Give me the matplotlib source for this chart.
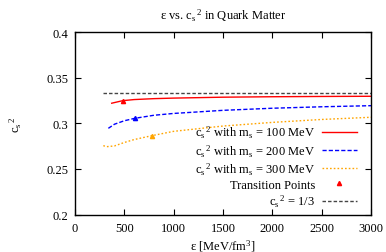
import matplotlib.pyplot as plt
import numpy as np

plt.rcParams['font.family'] = ['Liberation Serif', 'DejaVu Serif']
plt.rcParams['mathtext.fontset'] = 'custom'
plt.rcParams['mathtext.rm'] = 'Liberation Serif'
plt.rcParams['mathtext.it'] = 'Liberation Serif'
plt.rcParams['font.size'] = 9

# energy density [MeV/fm^3] and c_s^2
eps_100 = [372, 484, 600, 800, 1000, 1500, 2000, 2500, 3000]
cs2_100 = [0.3220, 0.3248, 0.3260, 0.3270, 0.3276, 0.3286, 0.3291, 0.3294, 0.3296]

eps_200 = [338, 400, 500, 608, 800, 1000, 1500, 2000, 2500, 3000]
cs2_200 = [0.2945, 0.2990, 0.3028, 0.3055, 0.3088, 0.3108, 0.3142, 0.3165, 0.3181, 0.3193]

eps_300 = [287, 321, 400, 500, 600, 777, 1000, 1500, 2000, 2500, 3000]
cs2_300 = [0.2755, 0.2744, 0.2752, 0.2790, 0.2822, 0.2864, 0.2912, 0.2970, 0.3010, 0.3042, 0.3066]

# transition points
trans_eps = [484, 608, 777]
trans_cs2 = [0.3248, 0.3055, 0.2864]
trans_col = ['red', 'blue', 'orange']

conformal_eps = [285, 3000]
conformal_cs2 = [1/3, 1/3]

cs2 = r'c$_\mathrm{s}$$^{\,\mathrm{2}}$'

fig = plt.figure(figsize=(3.86, 2.53), dpi=100)
ax = fig.add_axes([75/386, 1 - 215.6/253, (371-75)/386, (215.6-33)/253])

ax.plot(eps_100, cs2_100, color='red', lw=1.0, label=cs2 + ' with m$_\\mathrm{s}$ = 100 MeV')
ax.plot(eps_200, cs2_200, color='blue', lw=1.0, ls=(0, (3, 1.5)), label=cs2 + ' with m$_\\mathrm{s}$ = 200 MeV')
ax.plot(eps_300, cs2_300, color='orange', lw=1.0, ls=(0, (1.2, 1.5)), label=cs2 + ' with m$_\\mathrm{s}$ = 300 MeV')
for e, c, col in zip(trans_eps, trans_cs2, trans_col):
    ax.plot(e, c, marker='^', ms=3, color=col, ls='none')
ax.plot([], [], marker='^', ms=3, color='red', ls='none', label='Transition Points')
ax.plot(conformal_eps, conformal_cs2, color='#444444', lw=1.0, ls=(0, (2.5, 1.5)), label=cs2 + ' = 1/3')

ax.set_xlim(0, 3000)
ax.set_ylim(0.2, 0.4)
ax.set_xticks(np.arange(0, 3001, 500))
ax.set_yticks([0.2, 0.25, 0.3, 0.35, 0.4])
ax.set_yticklabels(['0.2', '0.25', '0.3', '0.35', '0.4'])
ax.tick_params(direction='in', top=True, right=True, length=4, labelsize=9, pad=5)
for s in ax.spines.values():
    s.set_linewidth(1.0)

ax.set_xlabel('ε [MeV/fm$^3$]', labelpad=3)
ax.set_ylabel(cs2, labelpad=16)
ax.set_title('ε vs. ' + cs2 + ' in Quark Matter', fontsize=9, pad=10)

leg = ax.legend(loc='lower right', bbox_to_anchor=(1 - 7/296, -2/182.6), markerfirst=False, frameon=False,
                handlelength=2.8, labelspacing=0.15, borderaxespad=0.2, handletextpad=0.5)
for t in leg.get_texts():
    t.set_ha('right')
leg._legend_box.align = 'right'

fig.savefig('out.png', dpi=100)
